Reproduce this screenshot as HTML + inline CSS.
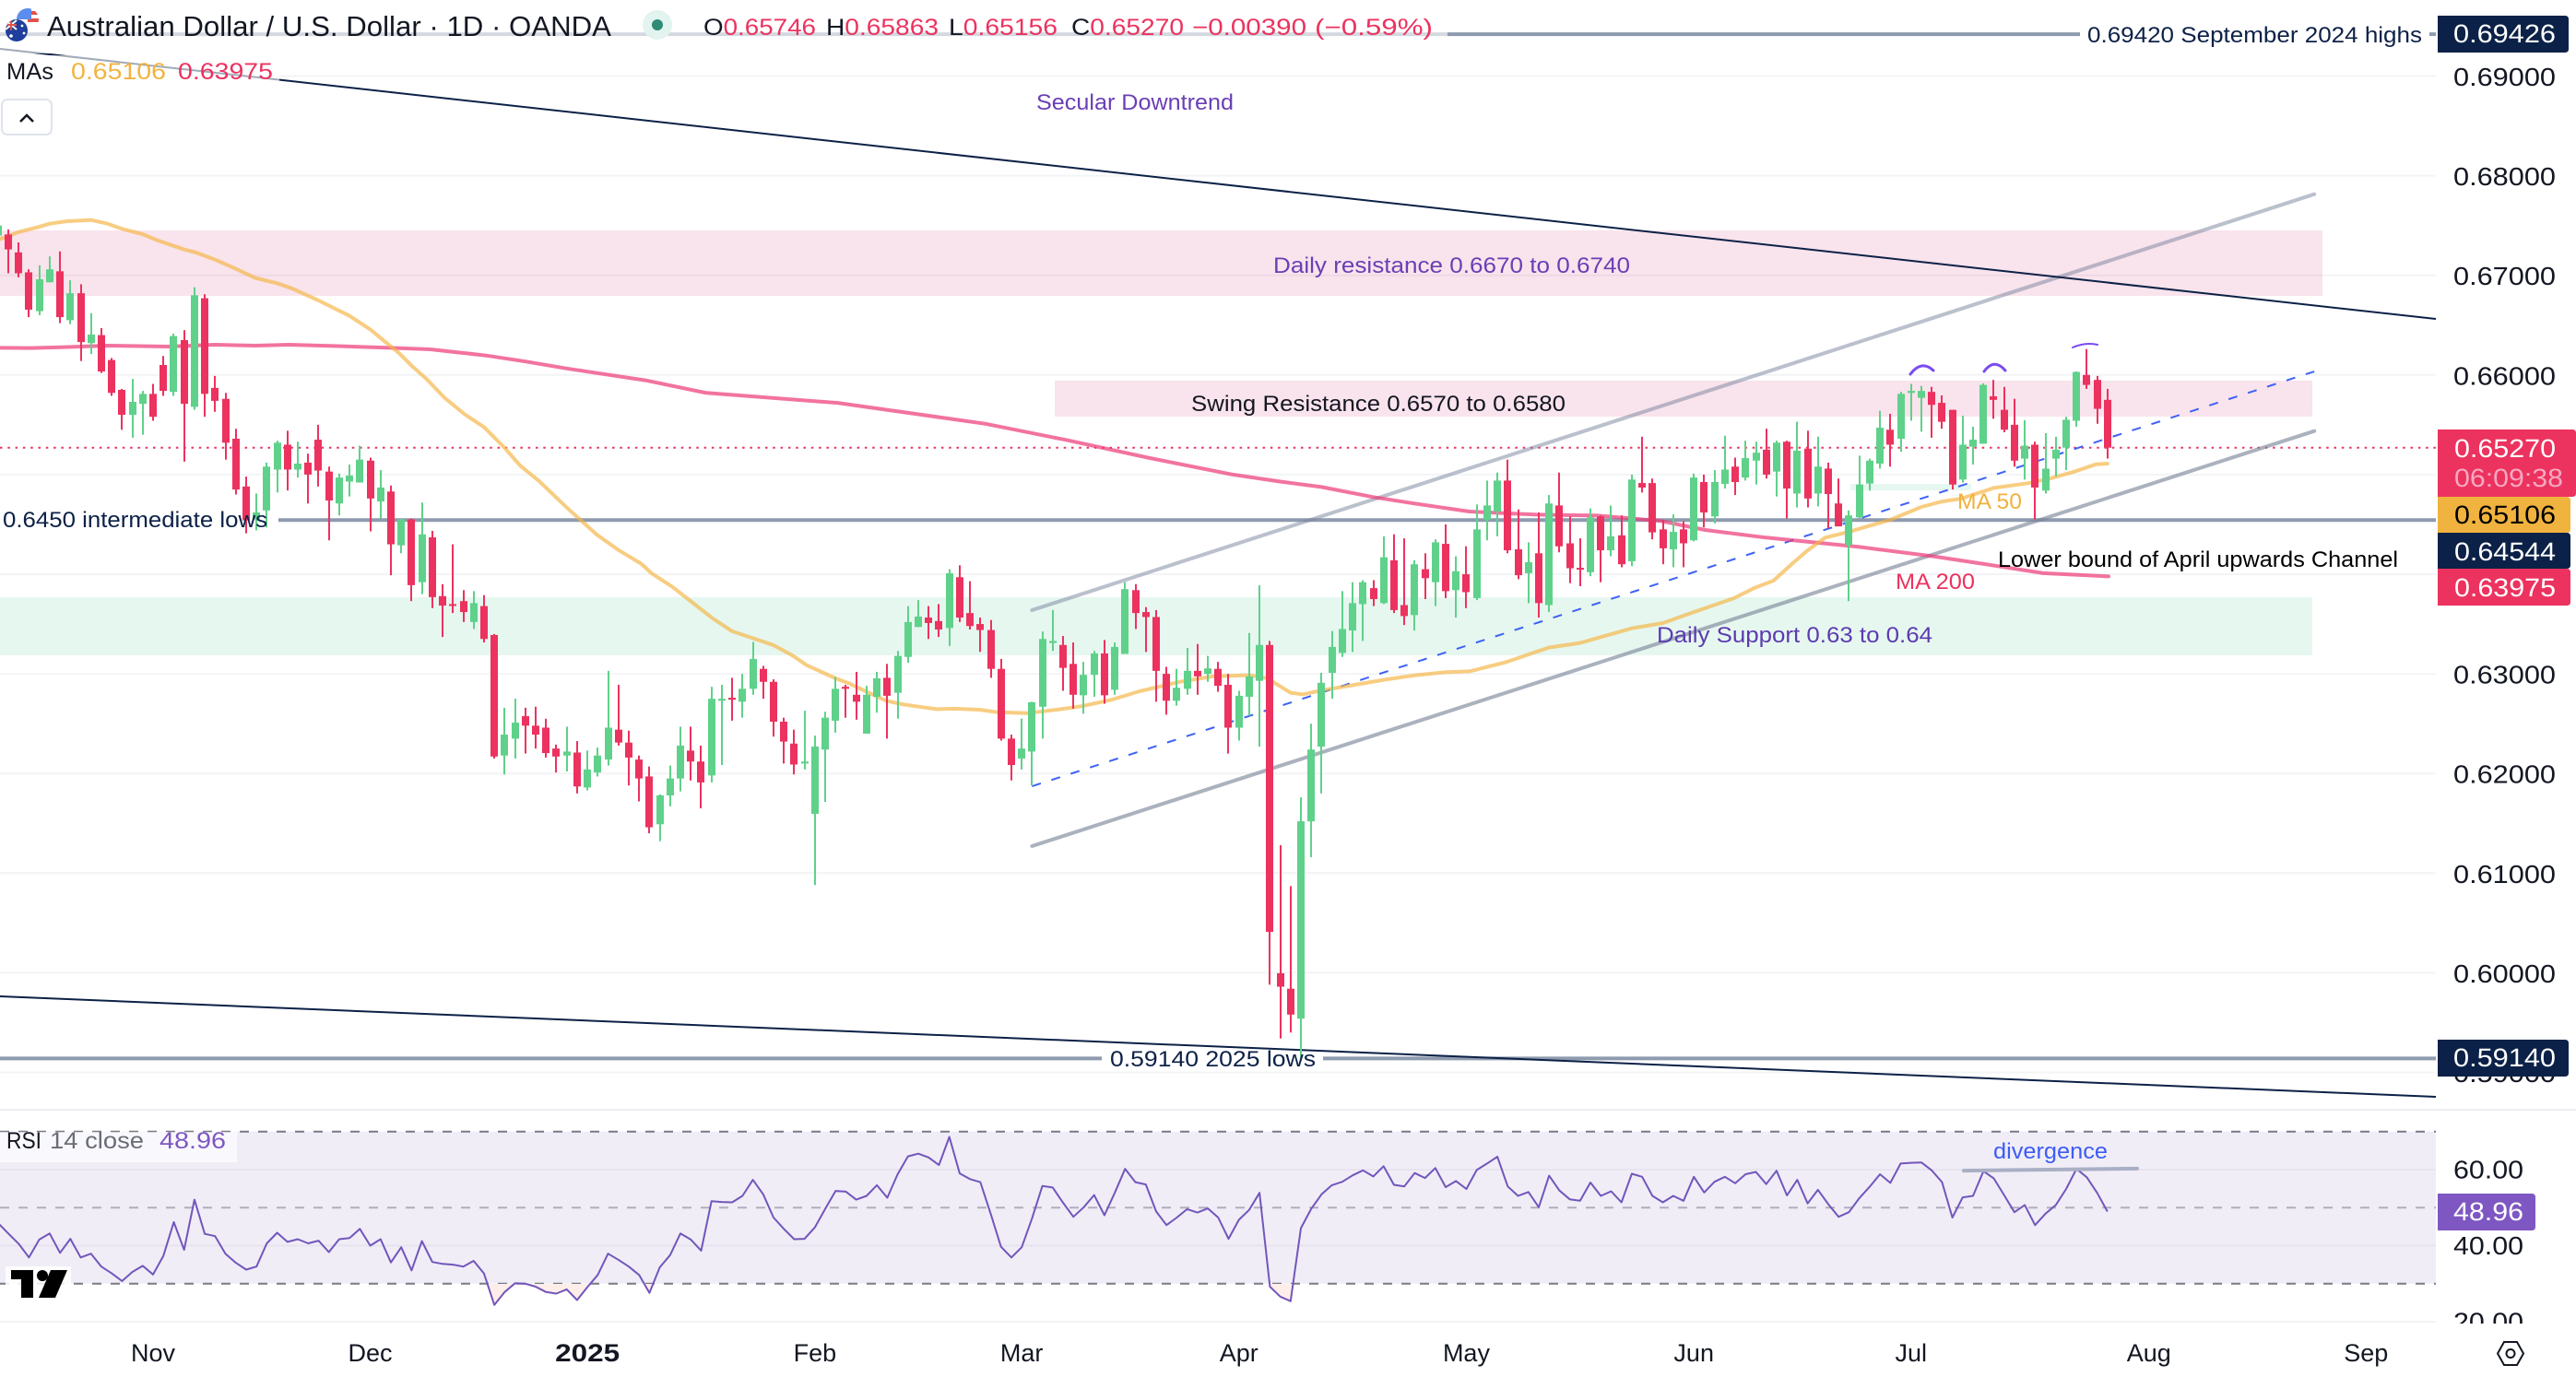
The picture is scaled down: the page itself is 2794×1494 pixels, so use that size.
<!DOCTYPE html>
<html lang="en">
<head>
<meta charset="utf-8">
<title>AUD/USD 1D chart</title>
<style>
html,body{margin:0;padding:0;background:#fff;width:2794px;height:1494px;overflow:hidden}
svg{display:block;font-family:"Liberation Sans",sans-serif}
</style>
</head>
<body>
<svg id="chart" xmlns="http://www.w3.org/2000/svg" width="2794" height="1494" viewBox="0 0 2794 1494">
  <defs>
    <clipPath id="mainClip"><rect x="0" y="0" width="2642" height="1204"/></clipPath>
    <clipPath id="rsiClip"><rect x="0" y="1204" width="2642" height="232"/></clipPath>
    <clipPath id="oversoldClip"><rect x="0" y="1393" width="2642" height="45"/></clipPath>
    <clipPath id="rsiAxisClip"><rect x="2644" y="1204" width="150" height="232"/></clipPath>
    <clipPath id="usFlagClip"><circle cx="30" cy="21" r="12"/></clipPath>
    <clipPath id="auFlagClip"><circle cx="18" cy="33" r="12"/></clipPath>
  </defs>

  <g id="gridLayer"></g>
  <g id="zoneLayer" clip-path="url(#mainClip)">
    <rect id="zoneResistance" x="0" y="250" width="2519" height="71" fill="rgba(215,68,128,.15)"/>
    <rect id="zoneSwing" x="1144" y="413" width="1364" height="39" fill="rgba(215,68,128,.15)"/>
    <rect id="zoneSupport" x="0" y="648" width="2508" height="63" fill="rgba(47,188,130,.12)"/>
    <rect x="2007" y="525" width="131" height="7" fill="rgba(47,188,130,.12)"/>
  </g>
  <g id="lineLayer" clip-path="url(#mainClip)"></g>
  <g id="maLayer" clip-path="url(#mainClip)"></g>
  <g id="candleLayer" clip-path="url(#mainClip)"></g>

  <g fill="none" stroke="#7b4bf0" stroke-linecap="round">
    <path d="M2072 406 Q2084 390 2097 402" stroke-width="3"/>
    <path d="M2152 403 Q2163 388 2175 402" stroke-width="3"/>
    <path d="M2248 377 Q2262 371 2275 374" stroke-width="2"/>
  </g>

  <g font-size="24">
    <text x="1124" y="119" fill="#6a3fb5" textLength="214" lengthAdjust="spacingAndGlyphs">Secular Downtrend</text>
    <text x="1381" y="296" fill="#6a3fb5" textLength="387" lengthAdjust="spacingAndGlyphs">Daily resistance 0.6670 to 0.6740</text>
    <text x="1292" y="446" fill="#131722" textLength="406" lengthAdjust="spacingAndGlyphs">Swing Resistance 0.6570 to 0.6580</text>
    <text x="1797" y="697" fill="#5c3bb0" textLength="299" lengthAdjust="spacingAndGlyphs">Daily Support 0.63 to 0.64</text>
    <text x="3" y="572" fill="#0c2147" textLength="287" lengthAdjust="spacingAndGlyphs">0.6450 intermediate lows</text>
    <text x="2264" y="46" fill="#0c2147" textLength="363" lengthAdjust="spacingAndGlyphs">0.69420 September 2024 highs</text>
    <text x="1204" y="1157" fill="#0c2147" textLength="223" lengthAdjust="spacingAndGlyphs">0.59140 2025 lows</text>
    <text x="2123" y="552" fill="#efb23f" textLength="70" lengthAdjust="spacingAndGlyphs">MA 50</text>
    <text x="2056" y="639" fill="#ec325f" textLength="86" lengthAdjust="spacingAndGlyphs">MA 200</text>
    <text x="2167" y="615" fill="#000" textLength="434" lengthAdjust="spacingAndGlyphs">Lower bound of April upwards Channel</text>
  </g>

  <rect x="0" y="10" width="1570" height="48" fill="rgba(255,255,255,.62)"/>
  <rect x="0" y="60" width="303" height="38" fill="rgba(255,255,255,.62)"/>

  <g>
    <g clip-path="url(#usFlagClip)">
      <rect x="18" y="9" width="24" height="24" fill="#fff"/>
      <rect x="30" y="12" width="12" height="4" fill="#e0524a"/>
      <rect x="30" y="20" width="12" height="4" fill="#e0524a"/>
      <rect x="18" y="9" width="16" height="12" fill="#5b8def"/>
    </g>
    <g clip-path="url(#auFlagClip)">
      <rect x="6" y="21" width="24" height="24" fill="#1f3f9e"/>
      <rect x="6" y="21" width="12" height="12" fill="#26408f"/>
      <path d="M6 22 L18 32 M18 22 L6 32" stroke="#fff" stroke-width="2"/>
      <path d="M12 21 V33 M6 27 H18" stroke="#e0524a" stroke-width="2"/>
      <circle cx="24" cy="28" r="1.4" fill="#fff"/>
      <circle cx="26" cy="36" r="1.4" fill="#fff"/>
      <circle cx="12" cy="39" r="1.8" fill="#fff"/>
    </g>
  </g>
  <text x="51" y="39" font-size="31" fill="#131722" textLength="612" lengthAdjust="spacingAndGlyphs">Australian Dollar / U.S. Dollar · 1D · OANDA</text>
  <circle cx="713" cy="27" r="16" fill="#e3f3ef"/>
  <circle cx="713" cy="27" r="6" fill="#2e8b75"/>
  <g font-size="25" fill="#ec325f">
    <text x="763" y="38" textLength="122" lengthAdjust="spacingAndGlyphs"><tspan fill="#131722">O</tspan>0.65746</text>
    <text x="896" y="38" textLength="122" lengthAdjust="spacingAndGlyphs"><tspan fill="#131722">H</tspan>0.65863</text>
    <text x="1029" y="38" textLength="118" lengthAdjust="spacingAndGlyphs"><tspan fill="#131722">L</tspan>0.65156</text>
    <text x="1162" y="38" textLength="122" lengthAdjust="spacingAndGlyphs"><tspan fill="#131722">C</tspan>0.65270</text>
    <text x="1293" y="38" textLength="124" lengthAdjust="spacingAndGlyphs">−0.00390</text>
    <text x="1426" y="38" textLength="128" lengthAdjust="spacingAndGlyphs">(−0.59%)</text>
  </g>
  <g font-size="25">
    <text x="7" y="86" fill="#131722" textLength="51" lengthAdjust="spacingAndGlyphs">MAs</text>
    <text x="77" y="86" fill="#f2b340" textLength="103" lengthAdjust="spacingAndGlyphs">0.65106</text>
    <text x="193" y="86" fill="#ec325f" textLength="103" lengthAdjust="spacingAndGlyphs">0.63975</text>
  </g>
  <g>
    <rect x="2" y="108" width="54" height="38" rx="6" fill="#fff" stroke="#e0e3eb" stroke-width="2"/>
    <path d="M22 132 L29 125 L36 132" fill="none" stroke="#131722" stroke-width="2.5"/>
  </g>

  <rect x="0" y="1203" width="2794" height="2" fill="#eceef2"/>

  <g id="rsiLayer" clip-path="url(#rsiClip)"></g>
  <rect x="2128" y="1267" width="192" height="4" rx="2" fill="#a9afc4" transform="rotate(-0.7 2224 1269)"/>
  <text x="2162" y="1257" font-size="24" fill="#3d5cf5" textLength="124" lengthAdjust="spacingAndGlyphs">divergence</text>
  <rect x="0" y="1228" width="257" height="33" fill="rgba(255,255,255,.6)"/>
  <g font-size="25">
    <text x="7" y="1246" fill="#131722" textLength="38" lengthAdjust="spacingAndGlyphs">RSI</text>
    <text x="54" y="1246" fill="#6a6d78" textLength="102" lengthAdjust="spacingAndGlyphs">14 close</text>
    <text x="173" y="1246" fill="#7e57c2" textLength="72" lengthAdjust="spacingAndGlyphs">48.96</text>
  </g>
  <g>
    <rect x="6" y="1374" width="71" height="36" fill="rgba(255,255,255,.85)"/>
    <path d="M12 1378 H36 V1408 H23 V1388 H12 Z" fill="#000"/>
    <circle cx="46" cy="1384" r="6" fill="#000"/>
    <path d="M55 1378 H73 L60 1408 H42 Z" fill="#000"/>
  </g>

  <g id="priceAxis" font-size="28" fill="#131722"></g>
  <g id="rsiAxis" font-size="28" fill="#131722" clip-path="url(#rsiAxisClip)"></g>
  <g id="timeAxis" font-size="27" fill="#131722"></g>

  <g font-size="28" text-rendering="geometricPrecision">
    <g>
      <path d="M2644 17 H2782 Q2786 17 2786 21 V53 Q2786 57 2782 57 H2644 Z" fill="#0c2147"/>
      <text x="2661" y="46" fill="#fff" textLength="111" lengthAdjust="spacingAndGlyphs">0.69426</text>
    </g>
    <g>
      <path d="M2644 466 H2790 Q2794 466 2794 470 V535 Q2794 539 2790 539 H2644 Z" fill="#ec325f"/>
      <text x="2662" y="496" fill="#fff" textLength="110" lengthAdjust="spacingAndGlyphs">0.65270</text>
      <text x="2662" y="528" fill="#f7a8bf" textLength="118" lengthAdjust="spacingAndGlyphs">06:09:38</text>
    </g>
    <g>
      <path d="M2644 539 H2784 Q2788 539 2788 543 V574 Q2788 578 2784 578 H2644 Z" fill="#f0b33f"/>
      <text x="2662" y="568" fill="#000" textLength="110" lengthAdjust="spacingAndGlyphs">0.65106</text>
    </g>
    <g>
      <path d="M2644 578 H2784 Q2788 578 2788 582 V613 Q2788 617 2784 617 H2644 Z" fill="#0c2147"/>
      <text x="2662" y="608" fill="#fff" textLength="110" lengthAdjust="spacingAndGlyphs">0.64544</text>
    </g>
    <g>
      <path d="M2644 617 H2784 Q2788 617 2788 621 V653 Q2788 657 2784 657 H2644 Z" fill="#ec325f"/>
      <text x="2662" y="647" fill="#fff" textLength="110" lengthAdjust="spacingAndGlyphs">0.63975</text>
    </g>
    <g>
      <path d="M2644 1128 H2782 Q2786 1128 2786 1132 V1164 Q2786 1168 2782 1168 H2644 Z" fill="#0c2147"/>
      <text x="2661" y="1157" fill="#fff" textLength="111" lengthAdjust="spacingAndGlyphs">0.59140</text>
    </g>
    <g>
      <path d="M2644 1295 H2746 Q2750 1295 2750 1299 V1331 Q2750 1335 2746 1335 H2644 Z" fill="#7e57c2"/>
      <text x="2661" y="1324" fill="#fff" textLength="76" lengthAdjust="spacingAndGlyphs">48.96</text>
    </g>
  </g>

  <g fill="none" stroke="#131722" stroke-width="2">
    <path d="M2716 1456 H2730 L2737 1468.5 L2730 1481 H2716 L2709 1468.5 Z"/>
    <circle cx="2723" cy="1468.5" r="4.5"/>
  </g>
</svg>

<script>
// Candle values, in units of 0.0001
const opens=[6740,6741,6723,6703,6664,6693,6704,6655,6682,6632,
6640,6615,6585,6560,6571,6581,6610,6583,6635,6568,
6677,6587,6576,6536,6488,6455,6464,6505,6530,6505,
6512,6535,6503,6471,6493,6492,6514,6473,6483,6429,
6455,6392,6437,6378,6370,6373,6352,6368,6339,6218,
6235,6257.5,6248,6246,6225,6218,6221,6186,6201,6214,
6244,6231,6214,6197,6149,6178,6195,6223,6212,6198,
6273,6276,6272,6285,6305,6292,6252,6230,6210,6159.5,
6224,6253,6287,6279,6240,6277,6296,6281,6317,6347,
6356.5,6353,6346,6397,6361,6350,6344,6305,6235,6215,
6222,6267,6331,6329,6310,6278.5,6299,6320.5,6284,6320,
6384,6362,6357,6300,6273,6285,6303,6300,6305,6289,
6246,6277,6293,6329,5999.5,5984,5954,6152,6227,6301,
6321,6343.5,6370,6386,6371,6414,6369,6359,6405,6392,
6430.5,6384,6400,6376,6454.5,6463,6494,6425,6401,6421,
6369,6469,6431,6406.4,6402,6458,6424,6439,6413,6491.5,
6491.5,6445,6425,6445,6434,6492.5,6458,6490.6,6508,6497,
6514,6525,6503,6533,6481,6526,6481,6506,6471,6429,
6457,6491,6511,6545,6536,6582,6577,6583,6572,6565,
6495,6528,6531,6578.5,6565,6550,6516,6530,6484,6516,
6527,6554,6600,6595,6575];
const highs=[6751,6746,6733,6706,6710,6719,6724,6695,6691,6662,
6647,6617,6586,6596,6584,6591,6619,6641.5,6645,6688,
6681,6599,6582,6546,6498,6481,6512,6534,6544,6533,
6521,6550,6508,6501,6510,6529,6517,6504.5,6489,6455.5,
6456,6472,6443.5,6390,6430,6384,6383,6379,6340,6266,
6275,6266,6267,6255,6229,6247,6232.5,6223,6226,6303,
6289,6243,6218,6207,6179,6208,6247,6247,6228,6287,
6289,6296,6300,6332,6308,6294.5,6256,6244,6263,6238,
6262,6297,6289,6302,6288,6302,6310,6323,6368,6374,
6368,6370,6405,6409,6393,6356.5,6354,6315,6239,6255,
6272,6342.5,6364,6338,6331.5,6312,6323,6334,6331.5,6392,
6390,6367,6364,6307,6305,6326,6330,6318,6312,6300,
6283,6341,6389,6333,6128,6087,6176,6250,6301,6343,
6383,6392,6394,6394,6438,6440,6436,6414,6421,6435,
6450,6418,6428,6470,6494,6502,6515,6465,6432,6462,
6479.5,6502,6458,6436,6466,6459,6469,6459,6500,6538,
6496,6454.5,6460,6453,6501,6500,6504.5,6539,6517,6534,
6533,6546,6534,6534,6553,6544,6538,6512,6496,6464,
6519,6516,6564,6561,6583,6591,6589,6588,6579.5,6565,
6559,6548,6591.5,6595,6588,6576,6554.5,6533,6541.5,6538,
6558,6603.5,6626,6599,6586];
const lows=[6735,6702,6698,6658,6660,6693,6652,6651,6614,6621,
6602,6579,6545,6537,6540,6554,6579,6579,6513,6565,
6558,6563,6515,6480,6441,6444,6447,6482,6484,6497,
6471,6488,6434,6459,6478,6492.5,6443,6456,6399,6421,
6373,6380,6366,6337,6361,6352,6345,6331.5,6215,6199,
6215,6220,6225,6216,6201,6202,6180,6183,6197,6208,
6228,6188,6172,6140,6132,6167,6182,6193,6165,6191,
6208.5,6253,6256,6279,6275,6237,6210,6199,6204,6088,
6171.5,6241,6256,6254,6240,6261,6235,6255,6311,6347,
6335,6337,6328,6352,6344.5,6322,6296,6233,6193,6204,
6188,6235,6323,6283,6265,6260,6277,6270,6279,6320,
6345,6322,6272,6259,6268,6279,6279,6292,6282,6220,
6233,6258,6227,5988,5934,5940,5914,6116,6180,6275,
6317,6322,6333,6368,6370,6361,6349,6343.5,6375,6368,
6376,6356.5,6366,6374,6434,6438,6421,6395,6371,6356.5,
6362,6422,6391,6388,6398,6392,6418,6407,6408,6482,
6435,6410,6407,6407,6433,6447,6451,6486,6479.5,6494,
6490,6496,6478,6456,6467,6467,6468,6446,6448,6373,
6455.5,6484,6506,6508,6523,6554,6543,6537,6546,6485,
6492,6510,6531,6556,6542.5,6508,6495,6455,6481,6498,
6504.5,6548,6586,6551,6516];
const closes=[6750,6726,6702,6665.5,6696,6706,6658,6682,6633,6640.5,
6603.5,6582,6560,6573,6581,6558,6584,6639,6571,6680,
6581,6574,6532,6485,6454,6462,6508,6532,6505,6511,
6500,6504,6474,6497,6499,6515,6476,6487,6430,6455,
6389,6440,6377,6368.5,6369,6362,6371,6335,6217,6239,
6251,6248,6239,6220.5,6217,6222,6187,6204,6218,6246,
6231,6216,6195,6146,6178,6195,6228,6212,6191,6275,
6275,6274,6285,6315,6292,6252,6232,6209,6212,6227,
6256,6285,6285,6272,6279,6295.5,6278,6318,6352,6357.5,
6351,6344.5,6401,6356.5,6348,6344,6305,6235,6208.5,6225,
6271.5,6335,6333,6306,6279,6299,6320.5,6278.5,6327,6385,
6361,6357,6303,6273,6286,6303,6297.5,6305.5,6288,6246,
6278,6297.5,6329,6041,5986,5958,6152,6224,6291,6327,
6345,6371,6392,6375,6417,6364,6358,6410,6396,6432,
6383,6403,6382,6445,6469,6494,6424,6399,6412,6371,
6471,6428,6406,6405,6457,6424,6438,6410,6495,6487,
6442,6426,6442.5,6431,6497,6462,6492.5,6505,6492.5,6516.5,
6522,6500,6532,6486,6524,6476,6508,6480.5,6448,6459,
6490,6514,6547,6530,6581,6584,6584,6570,6553,6490,
6530,6535,6590,6575,6545,6514,6529,6487,6506,6525,
6555,6603,6590,6566,6527];

const ma50Bars=[0.2,2,4,5,6.7,9,10.6,12,14,15.4,18,19.2,21,23,24.9,27,28.4,31,34,36,37.3,38.8,40,41.5,43.2,45.2,47,49,50.5,52.3,55.1,57.9,60,62.2,63.2,65.2,67.3,69.2,71,72.8,75,76.9,78.2,81,82.4,84,85.9,87.4,89.1,90.8,92.5,94.9,96.6,99.6,102.4,104.8,107.6,110.4,114.3,117.5,121,122.7,125,126.2,128,131,134,137,139.9,142.3,145.8,150,153,156.2,158,161,163.7,167.8,169.9,171.7,173.5,175,176.7,179.1,180.6,183,186,188,189.8,193,196.3,198.4,200.8,202.9,204];
const ma50Values=[6736.4,6743.5,6748.7,6751.8,6754.3,6755.5,6751.8,6746.6,6741.3,6735.2,6725.9,6722.8,6715.7,6706.5,6697.2,6692,6687,6674.7,6659.3,6645.7,6634.6,6621.7,6609.3,6595.5,6577,6560,6547.7,6526.7,6509,6493.7,6466,6439.8,6424.3,6410.5,6401,6387.4,6370.4,6355,6342.7,6336.5,6328.8,6318,6308.7,6295.5,6290,6282,6273,6269.6,6267,6264.6,6265,6264,6261.5,6260.6,6264,6267.5,6273.7,6282.5,6292,6297.5,6298.6,6295.7,6281,6279.4,6283.4,6288.6,6294,6298.5,6301.6,6302.5,6311.7,6326.5,6331,6340.4,6345.7,6351,6361,6375.6,6386.4,6393.5,6410.5,6424,6436.7,6442.8,6447.5,6454.6,6467.5,6473,6475.8,6486.6,6491.3,6495.9,6503,6510.4,6511];
const ma200Bars=[0.2,3.2,6.1,10.6,16.5,21,24.9,28.1,32.9,37.9,41.8,44.8,47.2,51,55,62.6,68.5,81.2,95.5,103.4,111.4,119.4,124,128,133,136.9,142.3,148.8,154.7,160.7,165.1,171,180,187.1,191.9,197.8,204.1];
const ma200Values=[6627.2,6627,6627.8,6629.4,6628.5,6630.3,6629.4,6630.3,6629,6627.2,6625.7,6622.3,6619.5,6613.5,6606.5,6594.6,6582,6572,6551,6534.5,6516.6,6500,6493,6487.5,6477.4,6471,6462.9,6459.8,6458.8,6453.6,6444.4,6436.7,6427.4,6418,6410.5,6401,6397.8];
const rsiValues=[46,43.2,40.5,36.9,41.6,43.2,38.1,41.8,36.9,37.9,
34.5,32.7,30.7,33.1,34.7,32.4,37.3,46.2,38.9,52.1,
43.1,42.5,37.9,35.5,33.7,34.5,40.6,43.4,41,41.7,
40.6,41.3,38.3,41.7,42,44.4,40,41.7,35.6,39.6,
33.5,41.2,35.7,35.2,35,34.5,36,32.7,24.4,27.8,
30.1,30,29.2,27.8,27.4,28.5,25.7,29.1,32.3,37.9,
36.3,34.5,32.3,27.6,34.3,37.5,43.2,41.6,38.7,51.7,
51.5,51.4,53.1,57.3,53.5,47.4,44.4,41.7,41.8,44.8,
49.7,54.4,54.2,52.1,53.1,55.9,52.6,58.8,63.5,64.2,
63.2,61.2,68.6,59,57.5,56.7,48.4,39.7,36.9,39.6,
47.2,55.7,55.3,51.3,47.6,50.1,53.3,48,53.9,60.2,
56.7,56.1,49,45.4,47.4,49.6,48.7,49.8,47.4,41.8,
46.8,49.4,53.9,29.2,26.6,25.4,44.6,49.7,53.5,55.9,
56.8,58.5,59.8,58.2,60.9,56,55.6,59.1,57.8,60.4,
55.4,57,54.9,59.9,61.6,63.4,55.6,53.1,54.1,50.1,
58.4,54.5,52.2,51.8,56.6,53.1,54.3,51.4,58.9,58.1,
53.1,51.4,53.1,51.8,58.1,54,56.8,58.1,56.4,58.8,
59.4,56.2,59.7,53.2,57.3,51.1,54.7,50.9,47.6,48.8,
52.5,55.5,58.8,56.5,61.6,61.8,61.9,59.8,56.7,47.4,
52.7,53.1,59.6,57.7,53.3,48.8,50.7,45.4,48.4,50.7,
54.9,60.2,58,53.9,48.96];

const priceTicks=[0.69,0.68,0.67,0.66,0.65,0.64,0.63,0.62,0.61,0.60,0.59];
const rsiTicks=[60,40,20];
const rsiBands=[70,50,30];
const timeTickLabels=["Nov","Dec","2025","Feb","Mar","Apr","May","Jun","Jul","Aug","Sep"];
const timeTickBars=[15,36,57,79,99,120,142,164,185,208,229];

const upperChannelBars=[100,224];
const upperChannelPrices=[0.63639,0.67814];
const lowerChannelBars=[100,224];
const lowerChannelPrices=[0.61271,0.65437];
const midChannelBars=[100,224];
const midChannelPrices=[0.61872,0.66035];
const upperDowntrendBars=[0.2,235.75];
const upperDowntrendPrices=[0.69273,0.66562];
const lowerDowntrendBars=[0.2,235.75];
const lowerDowntrendPrices=[0.59763,0.58755];
const septemberHigh=0.6942;
const intermediateLow=0.64544;
const lows2025=0.5914;

const NS='http://www.w3.org/2000/svg';
const barX=n=>9+11.216*(n-1);
const priceY=p=>82.5+(0.69-p)*10810;
const pipY=v=>priceY(v/10000);
const rsiY=v=>1269+(60-v)*4.125;
function mk(tag,attrs,parent){
  const el=document.createElementNS(NS,tag);
  for(const k in attrs){el.setAttribute(k,attrs[k]);}
  parent.appendChild(el);
  return el;
}
const gridLayer=document.getElementById('gridLayer');
const lineLayer=document.getElementById('lineLayer');
const maLayer=document.getElementById('maLayer');
const candleLayer=document.getElementById('candleLayer');
const rsiLayer=document.getElementById('rsiLayer');
const priceAxis=document.getElementById('priceAxis');
const rsiAxis=document.getElementById('rsiAxis');
const timeAxis=document.getElementById('timeAxis');

priceTicks.forEach(p=>{
  const g=mk('line',{x1:0,x2:2642,y1:priceY(p),y2:priceY(p),stroke:'#f3f4f6','stroke-width':2},gridLayer);
  
  
  const t=mk('text',{x:2661,y:priceY(p)+10.5,textLength:111,lengthAdjust:'spacingAndGlyphs'},priceAxis);
  
  
  t.textContent=p.toFixed(5);
});

function drawSegment(bars,prices,stroke,width,name,dash){
  const a={x1:barX(bars[0]),y1:priceY(prices[0]),x2:barX(bars[1]),y2:priceY(prices[1]),stroke:stroke,'stroke-width':width,'stroke-linecap':'round'};
  if(dash){a['stroke-dasharray']=dash;a['stroke-linecap']='butt';}
  const l=mk('line',a,lineLayer);
  
  
}
function drawLevel(price,x1,x2,name){
  const l=mk('line',{x1:x1,x2:x2,y1:priceY(price),y2:priceY(price),stroke:'#8e9aae','stroke-width':4},lineLayer);
  
  
}
drawLevel(septemberHigh,0,2256,'september-2024-high-line');
drawLevel(septemberHigh,2635,2642,'september-2024-high-line-end');
drawLevel(intermediateLow,302,2642,'intermediate-lows-line');
drawLevel(lows2025,0,1195,'2025-lows-line');
drawLevel(lows2025,1435,2642,'2025-lows-line-end');

const lastPrice=mk('line',{x1:0,x2:2644,y1:pipY(closes[closes.length-1]),y2:pipY(closes[closes.length-1]),stroke:'#ec325f','stroke-width':2,'stroke-dasharray':'2.5 5.8'},lineLayer);



drawSegment(upperChannelBars,upperChannelPrices,'rgba(120,130,155,.5)',4,'upper-channel-line');
drawSegment(lowerChannelBars,lowerChannelPrices,'rgba(120,130,150,.62)',4,'lower-channel-line');
drawSegment(midChannelBars,midChannelPrices,'#3d62f5',2,'mid-channel-dashed-line','10 12');
drawSegment(upperDowntrendBars,upperDowntrendPrices,'#0c2147',2,'upper-downtrend-line');
drawSegment(lowerDowntrendBars,lowerDowntrendPrices,'#0c2147',2,'lower-downtrend-line');

function polyPoints(bars,vals,fy){return bars.map((b,i)=>barX(b).toFixed(1)+','+fy(vals[i]).toFixed(1)).join(' ');}
const ma200Line=mk('polyline',{points:polyPoints(ma200Bars,ma200Values,pipY),fill:'none',stroke:'rgba(236,56,119,.7)','stroke-width':4,'stroke-linejoin':'round','stroke-linecap':'round'},maLayer);


const ma50Line=mk('polyline',{points:polyPoints(ma50Bars,ma50Values,pipY),fill:'none',stroke:'rgba(244,182,70,.68)','stroke-width':4,'stroke-linejoin':'round','stroke-linecap':'round'},maLayer);



closes.forEach((c,i)=>{
  const o=opens[i],up=c>=o,col=up?'#5fd18a':'#ec325f';
  const x=Math.round(barX(i));
  const yT=pipY(Math.max(o,c)),yB=pipY(Math.min(o,c));
  const wick=mk('rect',{x:x-1,y:pipY(highs[i]),width:2,height:Math.max(1,pipY(lows[i])-pipY(highs[i])),fill:col},candleLayer);
  
  
  const body=mk('rect',{x:x-4,y:yT,width:8,height:Math.max(2,yB-yT),fill:col},candleLayer);
  
  
});

const rsiBg=mk('rect',{x:0,y:rsiY(rsiBands[0]),width:2642,height:rsiY(rsiBands[2])-rsiY(rsiBands[0]),fill:'#f0edf7'},rsiLayer);


rsiTicks.forEach(v=>{
  const g=mk('line',{x1:0,x2:2642,y1:rsiY(v),y2:rsiY(v),stroke:v===20?'#f3f4f6':'#e7e4ef','stroke-width':2},rsiLayer);
  
  
  const t=mk('text',{x:2661,y:rsiY(v)+9.5,textLength:76,lengthAdjust:'spacingAndGlyphs'},rsiAxis);
  
  
  t.textContent=v.toFixed(2);
});
rsiBands.forEach(v=>{
  const mid=v===rsiBands[1];
  const b=mk('line',{x1:0,x2:2642,y1:rsiY(v),y2:rsiY(v),stroke:mid?'#b2aebf':'#787b86','stroke-width':2,'stroke-dasharray':'10 10'},rsiLayer);
  
  
});
const rsiPts=rsiValues.map((v,i)=>barX(i).toFixed(1)+','+rsiY(v).toFixed(1)).join(' ');
const oversold=mk('polygon',{points:rsiPts+' '+barX(rsiValues.length-1)+','+rsiY(rsiBands[2])+' '+barX(0)+','+rsiY(rsiBands[2]),fill:'#fdeee9','clip-path':'url(#oversoldClip)'},rsiLayer);


const rsiLine=mk('polyline',{points:rsiPts,fill:'none',stroke:'#7256bb','stroke-width':2,'stroke-linejoin':'round'},rsiLayer);



timeTickLabels.forEach((lab,i)=>{
  const isYear=/^\d+$/.test(lab);
  const a={x:barX(timeTickBars[i]),y:1477,'text-anchor':'middle'};
  if(isYear){a['font-weight']='bold';a.textLength=70;a.lengthAdjust='spacingAndGlyphs';}
  const t=mk('text',a,timeAxis);
  
  
  t.textContent=lab;
});
</script>
</body>
</html>
